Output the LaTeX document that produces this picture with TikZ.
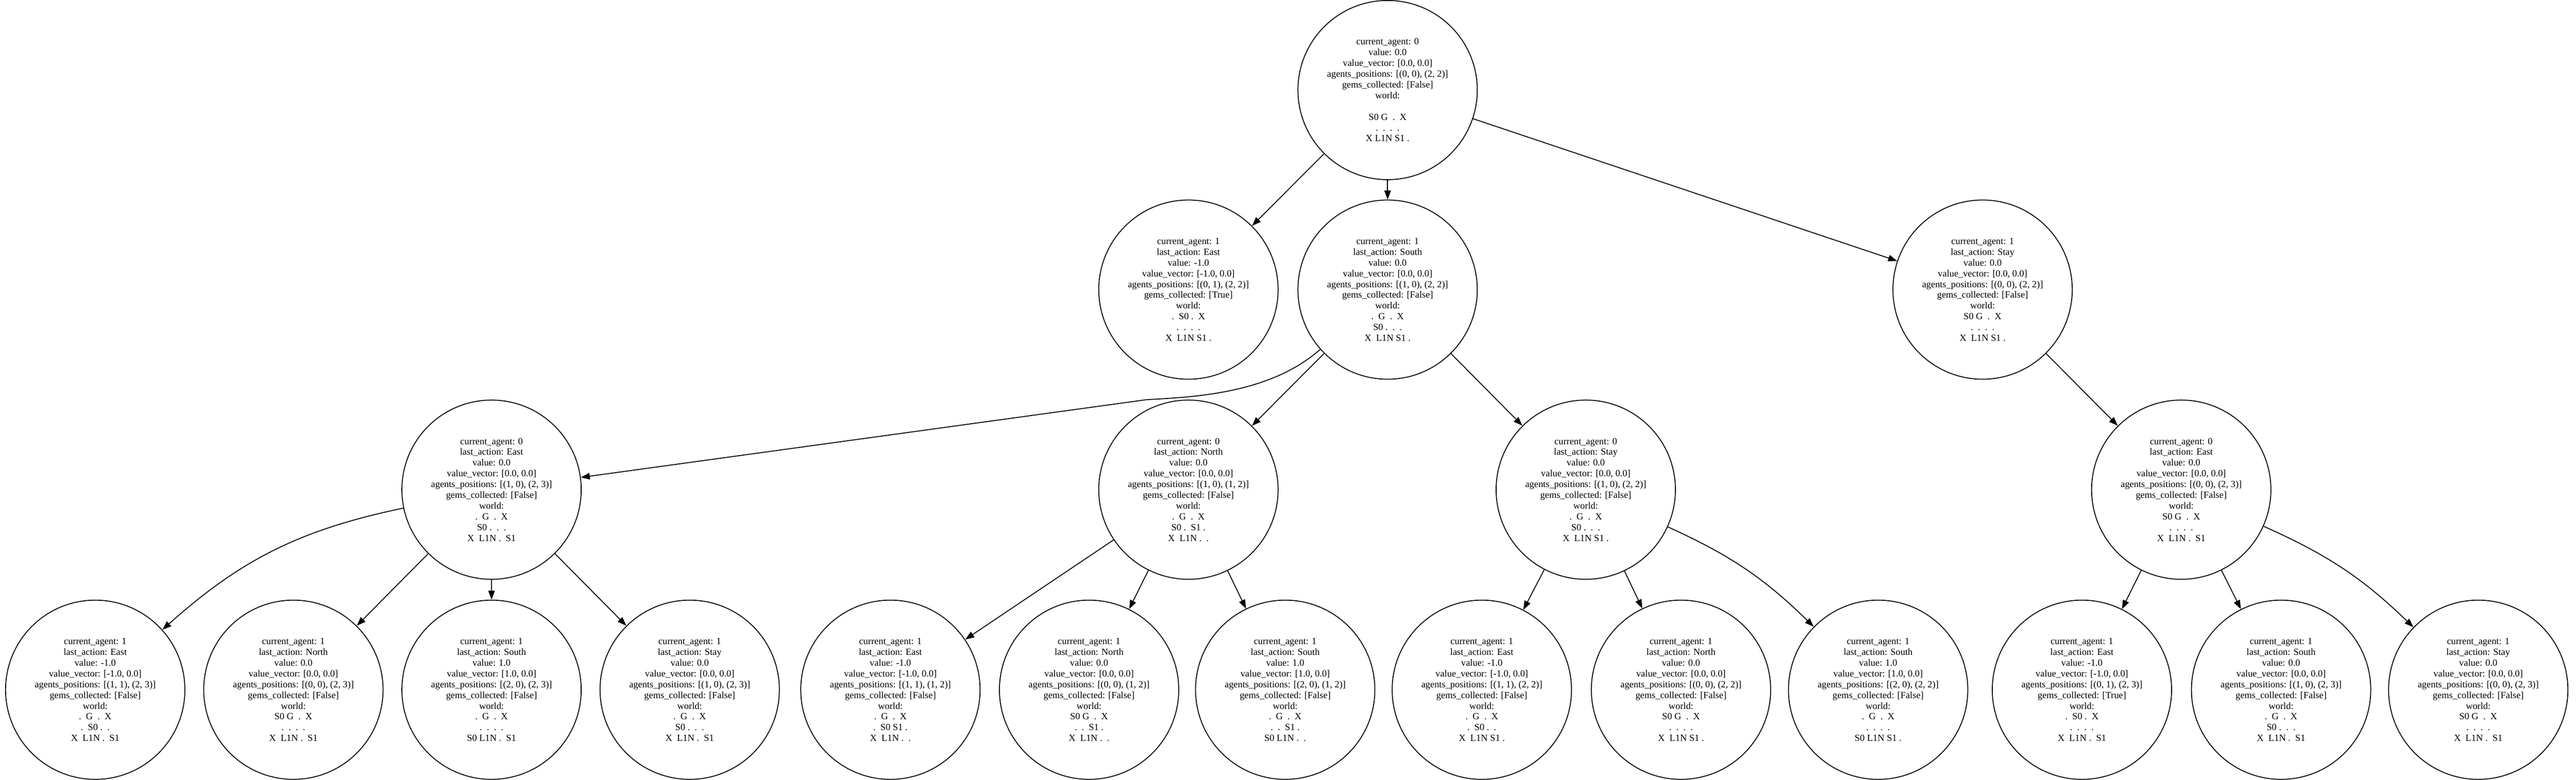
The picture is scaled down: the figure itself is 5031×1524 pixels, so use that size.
\documentclass[tikz,border=0pt]{standalone}
\usepackage{fontspec}
\setmainfont{Liberation Serif}
\usetikzlibrary{arrows.meta}
% text of one search node
\newcommand{\stxt}[9]{current\_agent: #1\\last\_action: #2\\value: #3\\value\_vector: [#4]\\agents\_positions: [#5]\\gems\_collected: [#6]\\world:\\#7\\#8\\#9}
\begin{document}
\begin{tikzpicture}[x=0.01cm,y=-0.01cm,
	state/.style={circle, draw, line width=0.5pt, minimum size=3.5cm, inner sep=0pt, align=center, font=\fontsize{5.26}{5.98}\selectfont},
	link/.style={-{Triangle[length=5pt,width=3.6pt]}, line width=0.5pt}]
	\useasboundingbox (0,0) rectangle (5031,1524);
	% root
	\node[state] (root) at (2710,176) {current\_agent: 0\\value: 0.0\\value\_vector: [0.0, 0.0]\\agents\_positions: [(0, 0), (2, 2)]\\gems\_collected: [False]\\world:\\~\\S0~G~~.~~X\\.~~.~~.~~.\\X~L1N~S1~.};
	% depth 1
	\node[state] (e1) at (2321,566) {\stxt{1}{East}{-1.0}{-1.0, 0.0}{(0, 1), (2, 2)}{True}{.~~S0~.~~X}{.~~.~~.~~.}{X~~L1N~S1~.}};
	\node[state] (s1) at (2710,566) {\stxt{1}{South}{0.0}{0.0, 0.0}{(1, 0), (2, 2)}{False}{.~~G~~.~~X}{S0~.~~.~~.}{X~~L1N~S1~.}};
	\node[state] (st1) at (3872,566) {\stxt{1}{Stay}{0.0}{0.0, 0.0}{(0, 0), (2, 2)}{False}{S0~G~~.~~X}{.~~.~~.~~.}{X~~L1N~S1~.}};
	% depth 2
	\node[state] (e2) at (960,957) {\stxt{0}{East}{0.0}{0.0, 0.0}{(1, 0), (2, 3)}{False}{.~~G~~.~~X}{S0~.~~.~~.}{X~~L1N~.~~S1}};
	\node[state] (n2) at (2321,957) {\stxt{0}{North}{0.0}{0.0, 0.0}{(1, 0), (1, 2)}{False}{.~~G~~.~~X}{S0~.~~S1~.}{X~~L1N~.~~.}};
	\node[state] (st2) at (3097,957) {\stxt{0}{Stay}{0.0}{0.0, 0.0}{(1, 0), (2, 2)}{False}{.~~G~~.~~X}{S0~.~~.~~.}{X~~L1N~S1~.}};
	\node[state] (er2) at (4260,957) {\stxt{0}{East}{0.0}{0.0, 0.0}{(0, 0), (2, 3)}{False}{S0~G~~.~~X}{.~~.~~.~~.}{X~~L1N~.~~S1}};
	% depth 3
	\node[state] (a1) at (186,1348) {\stxt{1}{East}{-1.0}{-1.0, 0.0}{(1, 1), (2, 3)}{False}{.~~G~~.~~X}{.~~S0~.~~.}{X~~L1N~.~~S1}};
	\node[state] (a2) at (573,1348) {\stxt{1}{North}{0.0}{0.0, 0.0}{(0, 0), (2, 3)}{False}{S0~G~~.~~X}{.~~.~~.~~.}{X~~L1N~.~~S1}};
	\node[state] (a3) at (960,1348) {\stxt{1}{South}{1.0}{1.0, 0.0}{(2, 0), (2, 3)}{False}{.~~G~~.~~X}{.~~.~~.~~.}{S0~L1N~.~~S1}};
	\node[state] (a4) at (1347,1348) {\stxt{1}{Stay}{0.0}{0.0, 0.0}{(1, 0), (2, 3)}{False}{.~~G~~.~~X}{S0~.~~.~~.}{X~~L1N~.~~S1}};
	\node[state] (b1) at (1739,1348) {\stxt{1}{East}{-1.0}{-1.0, 0.0}{(1, 1), (1, 2)}{False}{.~~G~~.~~X}{.~~S0~S1~.}{X~~L1N~.~~.}};
	\node[state] (b2) at (2127,1348) {\stxt{1}{North}{0.0}{0.0, 0.0}{(0, 0), (1, 2)}{False}{S0~G~~.~~X}{.~~.~~S1~.}{X~~L1N~.~~.}};
	\node[state] (b3) at (2510,1348) {\stxt{1}{South}{1.0}{1.0, 0.0}{(2, 0), (1, 2)}{False}{.~~G~~.~~X}{.~~.~~S1~.}{S0~L1N~.~~.}};
	\node[state] (c1) at (2894,1348) {\stxt{1}{East}{-1.0}{-1.0, 0.0}{(1, 1), (2, 2)}{False}{.~~G~~.~~X}{.~~S0~.~~.}{X~~L1N~S1~.}};
	\node[state] (c2) at (3283,1348) {\stxt{1}{North}{0.0}{0.0, 0.0}{(0, 0), (2, 2)}{False}{S0~G~~.~~X}{.~~.~~.~~.}{X~~L1N~S1~.}};
	\node[state] (c3) at (3668,1348) {\stxt{1}{South}{1.0}{1.0, 0.0}{(2, 0), (2, 2)}{False}{.~~G~~.~~X}{.~~.~~.~~.}{S0~L1N~S1~.}};
	\node[state] (d1) at (4066,1348) {\stxt{1}{East}{-1.0}{-1.0, 0.0}{(0, 1), (2, 3)}{True}{.~~S0~.~~X}{.~~.~~.~~.}{X~~L1N~.~~S1}};
	\node[state] (d2) at (4455,1348) {\stxt{1}{South}{0.0}{0.0, 0.0}{(1, 0), (2, 3)}{False}{.~~G~~.~~X}{S0~.~~.~~.}{X~~L1N~.~~S1}};
	\node[state] (d3) at (4840,1348) {\stxt{1}{Stay}{0.0}{0.0, 0.0}{(0, 0), (2, 3)}{False}{S0~G~~.~~X}{.~~.~~.~~.}{X~~L1N~.~~S1}};
	% edges
	\draw[link] (root) -- (e1);
	\draw[link] (root) -- (s1);
	\draw[link] (root) -- (st1);
	\draw[link] (s1) .. controls (2480,770) and (2330,776) .. (2240,781) -- (e2);
	\draw[link] (s1) -- (n2);
	\draw[link] (s1) -- (st2);
	\draw[link] (st1) -- (er2);
	\draw[link] (e2) to[bend right=15] (a1);
	\draw[link] (e2) -- (a2);
	\draw[link] (e2) -- (a3);
	\draw[link] (e2) -- (a4);
	\draw[link] (n2) -- (b1);
	\draw[link] (n2) -- (b2);
	\draw[link] (n2) -- (b3);
	\draw[link] (st2) -- (c1);
	\draw[link] (st2) -- (c2);
	\draw[link] (st2) to[bend left=10] (c3);
	\draw[link] (er2) -- (d1);
	\draw[link] (er2) -- (d2);
	\draw[link] (er2) to[bend left=10] (d3);
\end{tikzpicture}
\end{document}
